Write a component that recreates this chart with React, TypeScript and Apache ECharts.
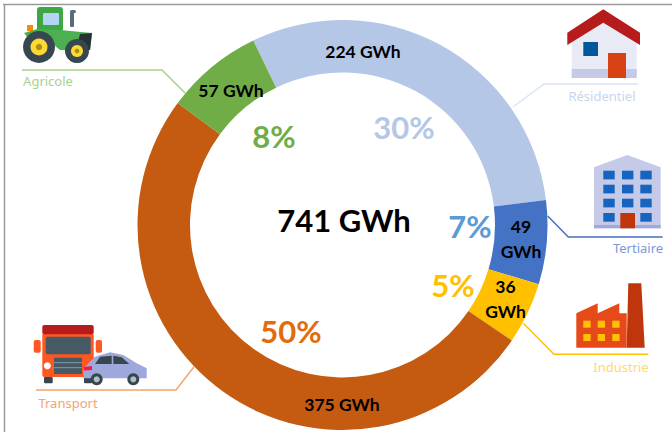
import React, { useEffect, useRef } from "react";
import * as echarts from "echarts";

const categories = ["Résidentiel", "Tertiaire", "Industrie", "Transport", "Agricole"];
const gwh = [224, 49, 36, 375, 57];
const percents = ["30%", "7%", "5%", "50%", "8%"];
const sliceLabels = ["224 GWh", "49\nGWh", "36\nGWh", "375 GWh", "57 GWh"];
const totalLabel = "741 GWh";
const sliceColors = ["#b4c7e7", "#4472c4", "#ffc000", "#c55a11", "#70ad47"];
const percentColors = ["#b4c7e7", "#5b9bd5", "#ffc000", "#e36c0a", "#70ad47"];
const lineColors = ["#d9e4f5", "#4472c4", "#ffc000", "#f4a46d", "#a9d18e"];
const nameColors = ["#c5d5ee", "#7b98d6", "#ffd966", "#f4a46d", "#a9d18e"];
const sliceLabelPos = [[363, 51], [521, 238.5], [505.5, 299], [342, 404], [231, 90]];
const percentPos = [[404, 127], [470, 226], [453, 285], [291, 331], [274, 136]];
const namePos = [[602, 96], [638, 248], [621, 367], [68, 403], [48, 81]];
const leaderLines = [
  [[513, 107], [544, 84], [638, 84]],
  [[547.7, 216], [568.3, 237], [662.7, 237]],
  [[523.3, 323.3], [554, 354.3], [648.3, 354.3]],
  [[194, 366.7], [176, 390], [36, 390]],
  [[22, 70], [162, 70], [185, 93]],
];

const rect = (x0: number, y0: number, x1: number, y1: number, fill: string, r = 0) => ({
  type: "rect", silent: true, shape: { x: x0, y: y0, width: x1 - x0, height: y1 - y0, r }, style: { fill },
});
const poly = (points: number[][], fill: string) => ({ type: "polygon", silent: true, shape: { points }, style: { fill } });
const circ = (cx: number, cy: number, r: number, fill: string) => ({ type: "circle", silent: true, shape: { cx, cy, r }, style: { fill } });

function tractor() {
  return [
    rect(37, 7, 63, 32, "#3da843", 3),
    rect(43, 13, 59, 25, "#b3d4f5", 1),
    rect(70, 12, 74, 27, "#546e7a", 1),
    rect(70, 10, 76, 13, "#546e7a", 1.5),
    rect(27, 25, 33, 31, "#fb8c00"),
    poly([[24, 33], [37, 29], [60, 30], [92, 33], [90, 50], [60, 50], [48, 40], [28, 38]], "#4caf50"),
    poly([[80, 34], [92, 33], [90, 50], [76, 50]], "#263238"),
    circ(39, 47, 16, "#37474f"),
    circ(39, 47, 8.5, "#fdd835"),
    circ(39, 47, 3.2, "#a79012"),
    circ(77, 51, 12, "#37474f"),
    circ(77, 51, 6, "#fdd835"),
    circ(77, 51, 2.4, "#a79012"),
  ];
}
function house() {
  return [
    poly([[571.7, 41], [603.3, 23], [636.7, 41], [636.7, 78], [571.7, 78]], "#e8eaf6"),
    rect(571.7, 69, 636.7, 78, "#c5cae9"),
    poly([[603.3, 9.3], [640, 32.7], [640, 45], [603.3, 22.7], [567.3, 45], [567.3, 32.7]], "#b71c1c"),
    rect(583.3, 42, 598, 56, "#01579b"),
    rect(608, 53, 626, 78, "#d84315"),
  ];
}
function office() {
  const els: any[] = [
    poly([[594, 167.3], [627.3, 155], [660.7, 167.3], [660.7, 228.3], [594, 228.3]], "#c5cae9"),
    rect(594, 225, 660.7, 228.3, "#9fa8da"),
  ];
  [603.3, 622, 640.3].forEach((x) => {
    [170.7, 184.7, 198.7, 213].forEach((y) => els.push(rect(x, y, x + 11.4, y + 8.7, "#1565c0")));
  });
  els.push(rect(620.3, 213, 635, 228.3, "#bf360c"));
  return els;
}
function factory() {
  const els: any[] = [
    poly([[576.3, 313.3], [597.7, 303.3], [597.7, 313.3], [619.3, 303.3], [619.3, 313.3], [626.7, 313.3], [626.7, 347.7], [576.3, 347.7]], "#e64a19"),
    poly([[628.3, 283.3], [641.3, 283.3], [644.7, 347.7], [626.7, 347.7]], "#bf360c"),
  ];
  [583.3, 597.7, 612.3].forEach((x) => {
    [320.7, 334].forEach((y) => els.push(rect(x, y, x + 7.3, y + 7, "#ffc107")));
  });
  return els;
}
function vehicles() {
  return [
    rect(44, 377, 52.7, 383.3, "#37474f", 1),
    rect(84, 377, 92, 383.3, "#37474f", 1),
    rect(33.7, 340, 40.7, 352.7, "#ff5722", 2),
    rect(95.7, 340, 102, 352.7, "#ff5722", 2),
    rect(42.3, 333, 93.7, 377, "#ff5722", 2),
    rect(42.3, 325, 93.7, 334.3, "#b71c1c", 2),
    rect(45.7, 336.7, 90.7, 354.3, "#455a64", 2),
    rect(54, 357.7, 82, 374, "#455a64"),
    rect(54, 362, 82, 363.2, "#78909c"),
    rect(54, 367, 82, 368.2, "#78909c"),
    circ(47.3, 365.7, 3.5, "#ffffff"),
    poly([[83.3, 368.3], [95, 356.7], [110, 352.3], [123.3, 355], [136.7, 363.3], [146.7, 368.3], [146.7, 378.3], [83.3, 378.3]], "#9fa8da"),
    poly([[95, 364], [100, 356.7], [111.7, 355.7], [111.7, 364]], "#37474f"),
    poly([[113.3, 355.7], [121.7, 357.3], [129.3, 364], [113.3, 364]], "#37474f"),
    poly([[83.5, 367], [92, 366], [92, 370], [84, 370.5]], "#ff1744"),
    circ(96.7, 379.3, 6, "#37474f"),
    circ(96.7, 379.3, 3, "#b0bec5"),
    circ(133.3, 379.3, 6, "#37474f"),
    circ(133.3, 379.3, 3, "#b0bec5"),
  ];
}
function spellWave() {
  const points: number[][] = [];
  for (let x = 500; x <= 542; x += 2) points.push([x, x % 4 === 0 ? 258 : 260]);
  return { type: "polyline", silent: true, z: 20, shape: { points }, style: { stroke: "#2f6fe0", lineWidth: 0.8, fill: "none" } };
}

const FONT = "Lato, 'Open Sans', sans-serif";

export default function App() {
  const ref = useRef<HTMLDivElement>(null);
  useEffect(() => {
    const chart = echarts.init(ref.current!, undefined, { renderer: "svg" });
    const graphic: any[] = [
      { type: "line", silent: true, shape: { x1: 3, y1: 4.5, x2: 672, y2: 4.5 }, style: { stroke: "#9a9a9a", lineWidth: 1.5 } },
      { type: "line", silent: true, shape: { x1: 4.5, y1: 4, x2: 4.5, y2: 432 }, style: { stroke: "#9a9a9a", lineWidth: 1.5 } },
      ...tractor(), ...house(), ...office(), ...factory(), ...vehicles(),
      ...leaderLines.map((points, i) => ({
        type: "polyline", silent: true, shape: { points },
        style: { stroke: lineColors[i], lineWidth: 1.5, fill: "none" },
      })),
      ...categories.map((name, i) => ({
        type: "text", silent: true, x: namePos[i][0], y: namePos[i][1],
        style: { text: name, fill: nameColors[i], font: `13px 'Noto Sans', sans-serif`, align: "center", verticalAlign: "middle" },
      })),
      ...percents.map((p, i) => ({
        type: "text", silent: true, x: percentPos[i][0], y: percentPos[i][1],
        style: { text: p, fill: percentColors[i], font: `bold 31px ${FONT}`, align: "center", verticalAlign: "middle" },
      })),
      {
        type: "text", silent: true, x: 344, y: 220,
        style: { text: totalLabel, fill: "#000", font: `bold 31px ${FONT}`, align: "center", verticalAlign: "middle" },
      },
      spellWave(),
    ];
    chart.setOption({
      animation: false,
      backgroundColor: "#ffffff",
      graphic,
      series: [
        {
          type: "pie",
          center: [342.5, 225],
          radius: [152.5, 205],
          startAngle: 115.8,
          clockwise: true,
          silent: true,
          z: 1,
          label: {
            show: true,
            position: "inside",
            formatter: (p: any) => sliceLabels[p.dataIndex],
            color: "#000",
            fontFamily: FONT,
            fontWeight: "bold",
            fontSize: 17.5,
            lineHeight: 25,
            align: "center",
            verticalAlign: "middle",
          },
          labelLine: { show: false },
          labelLayout: (p: any) => ({
            x: sliceLabelPos[p.dataIndex][0],
            y: sliceLabelPos[p.dataIndex][1],
            align: "center",
            verticalAlign: "middle",
          }),
          data: categories.map((name, i) => ({ name, value: gwh[i], itemStyle: { color: sliceColors[i] } })),
        },
      ],
    });
    return () => chart.dispose();
  }, []);
  return <div ref={ref} style={{ position: "absolute", left: 0, top: 0, width: 672, height: 432 }} />;
}
